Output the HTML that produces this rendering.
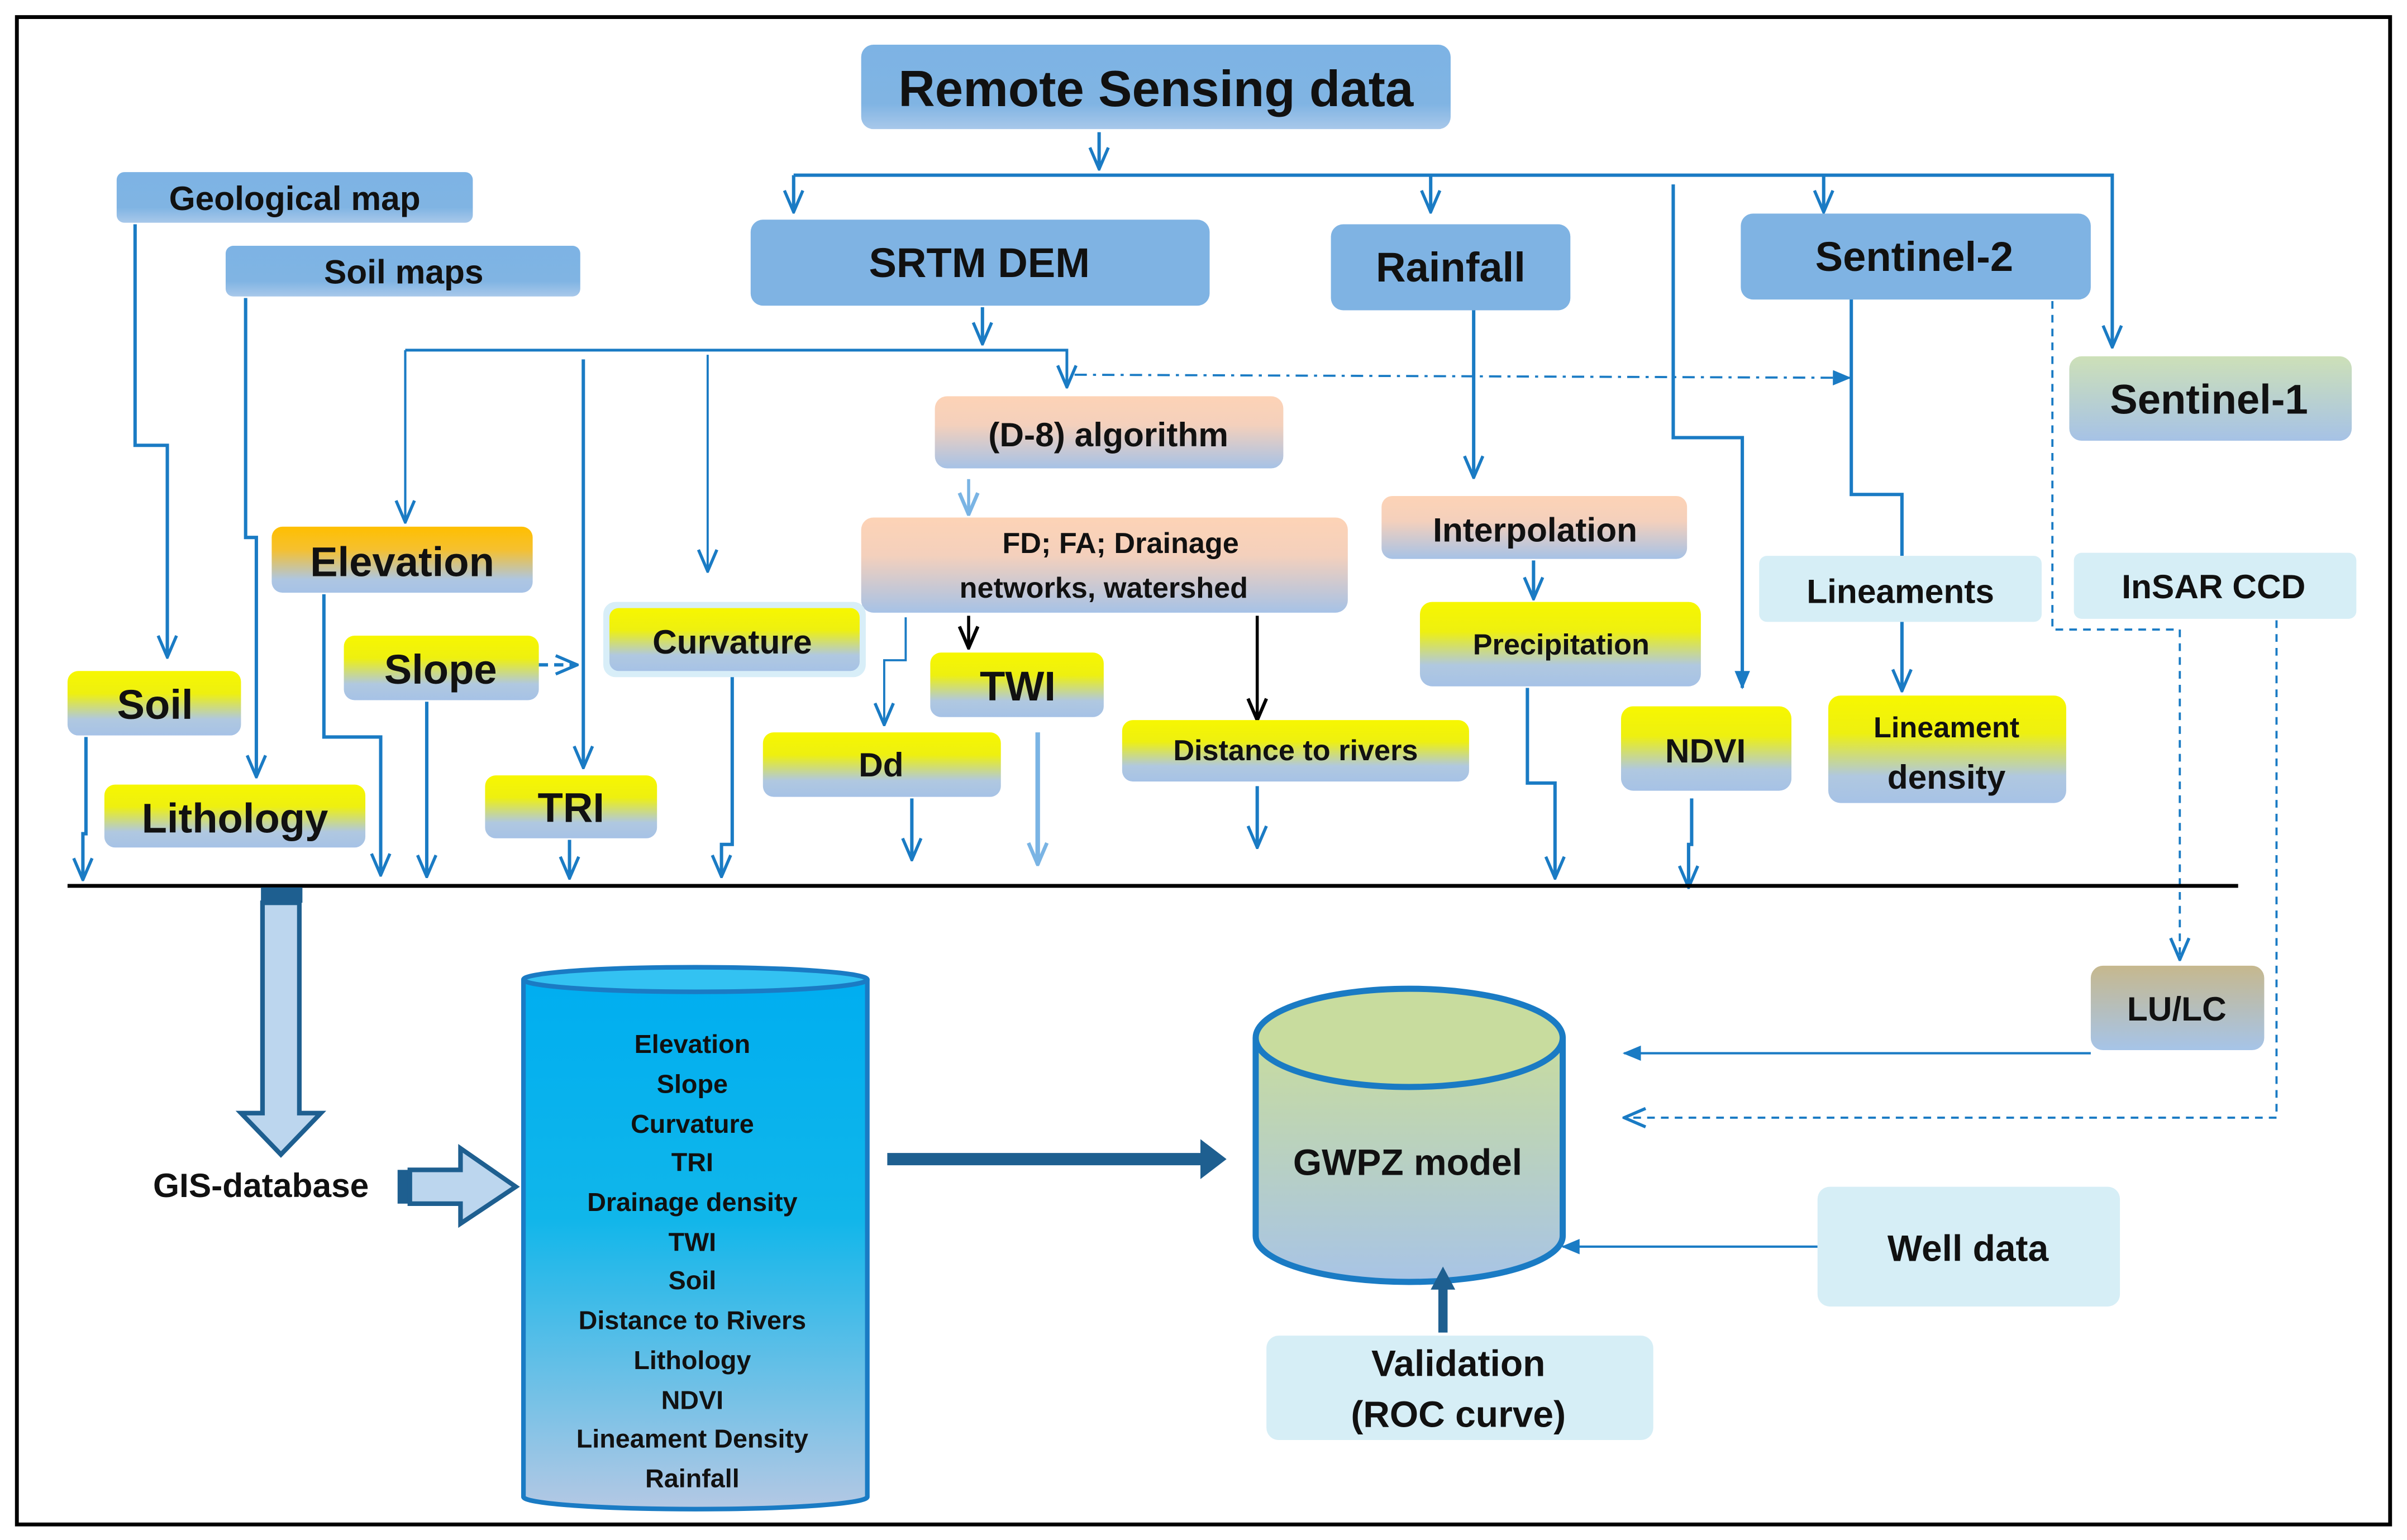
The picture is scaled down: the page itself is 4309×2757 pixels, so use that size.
<!DOCTYPE html>
<html><head><meta charset="utf-8"><style>
html,body{margin:0;padding:0;background:#fff;}
svg{display:block;}
text{font-family:"Liberation Sans",sans-serif;font-weight:bold;fill:#111;text-anchor:middle;dominant-baseline:central;}
</style></head><body>
<svg width="4309" height="2757" viewBox="0 0 1568 1003" xmlns="http://www.w3.org/2000/svg">
<defs>
<linearGradient id="yel" x1="0" y1="0" x2="0" y2="1"><stop offset="0" stop-color="#f7f700"/><stop offset="0.35" stop-color="#eef010"/><stop offset="0.75" stop-color="#b0c8e0"/><stop offset="1" stop-color="#a6c2e6"/></linearGradient>
<linearGradient id="org" x1="0" y1="0" x2="0" y2="1"><stop offset="0" stop-color="#ffbf00"/><stop offset="0.35" stop-color="#f5c030"/><stop offset="0.8" stop-color="#aec6e2"/><stop offset="1" stop-color="#a6c2e6"/></linearGradient>
<linearGradient id="pch" x1="0" y1="0" x2="0" y2="1"><stop offset="0" stop-color="#fdd3b6"/><stop offset="0.4" stop-color="#f4d0bc"/><stop offset="1" stop-color="#a6c2e6"/></linearGradient>
<linearGradient id="blu" x1="0" y1="0" x2="0" y2="1"><stop offset="0" stop-color="#7db3e4"/><stop offset="0.7" stop-color="#80b4e3"/><stop offset="1" stop-color="#a8c8ea"/></linearGradient>
<linearGradient id="grn" x1="0" y1="0" x2="0" y2="1"><stop offset="0" stop-color="#cde0b8"/><stop offset="1" stop-color="#a6c2e6"/></linearGradient>
<linearGradient id="lu" x1="0" y1="0" x2="0" y2="1"><stop offset="0" stop-color="#c6b88e"/><stop offset="1" stop-color="#a6c4e8"/></linearGradient>
<linearGradient id="db" x1="0" y1="0" x2="0" y2="1"><stop offset="0" stop-color="#00aef0"/><stop offset="0.45" stop-color="#10b6ea"/><stop offset="1" stop-color="#b4c8e4"/></linearGradient>
<linearGradient id="gw" x1="0" y1="0" x2="0" y2="1"><stop offset="0" stop-color="#c8dc9e"/><stop offset="1" stop-color="#a8c4e6"/></linearGradient>
<marker id="oa" viewBox="0 0 16 16" refX="15" refY="8" markerWidth="16" markerHeight="16" markerUnits="userSpaceOnUse" orient="auto"><path d="M1,2 L15,8 L1,14" fill="none" stroke="#1a7bc4" stroke-width="2"/></marker>
<marker id="oal" viewBox="0 0 16 16" refX="15" refY="8" markerWidth="16" markerHeight="16" markerUnits="userSpaceOnUse" orient="auto"><path d="M1,2 L15,8 L1,14" fill="none" stroke="#7ab4e4" stroke-width="2.4"/></marker>
<marker id="ob" viewBox="0 0 16 16" refX="15" refY="8" markerWidth="16" markerHeight="16" markerUnits="userSpaceOnUse" orient="auto"><path d="M1,2 L15,8 L1,14" fill="none" stroke="#000" stroke-width="2.2"/></marker>
<marker id="fa" viewBox="0 0 12 12" refX="11" refY="6" markerWidth="12" markerHeight="12" markerUnits="userSpaceOnUse" orient="auto"><path d="M0,1 L12,6 L0,11z" fill="#1a7bc4"/></marker>
</defs>
<rect width="1568" height="1003" fill="#fff"/>
<rect x="11" y="11" width="1546" height="982" fill="none" stroke="#000" stroke-width="2.5"/>

<g fill="none" stroke="#1a7bc4" stroke-width="2.2">
<path d="M716,86 V110" marker-end="url(#oa)"/>
<path d="M517,114 H1376 V226" marker-end="url(#oa)"/>
<path d="M517,114 V138" marker-end="url(#oa)"/>
<path d="M932,114 V138" marker-end="url(#oa)"/>
<path d="M1188,114 V138" marker-end="url(#oa)"/>
<path d="M1090,120 V285 H1135 V448" marker-end="url(#fa)"/>
<path d="M640,200 V224" marker-end="url(#oa)"/>
<path d="M264,228 H695 V252" stroke-width="1.8" marker-end="url(#oa)"/>
<path d="M264,228 V340" stroke-width="1.5" marker-end="url(#oa)"/>
<path d="M380,234 V500" marker-end="url(#oa)"/>
<path d="M461,231 V372" stroke-width="1.4" marker-end="url(#oa)"/>
<path d="M700,244 L1205,246" stroke-width="1.4" stroke-dasharray="8,4,2,4" marker-end="url(#fa)"/>
<path d="M1206,193 V322 H1239 V362"/>
<path d="M1239,405 V450" marker-end="url(#oa)"/>
<path d="M1337,196 V410 H1420 V625" stroke-width="1.4" stroke-dasharray="5,4" marker-end="url(#oa)"/>
<path d="M1483,404 V728 H1058" stroke-width="1.4" stroke-dasharray="5,4" marker-end="url(#oa)"/>
<path d="M960,202 V311" marker-end="url(#oa)"/>
<path d="M999,365 V390" marker-end="url(#oa)"/>
<path d="M88,146 V290 H109 V428" marker-end="url(#oa)"/>
<path d="M160,194 V350 H167 V506" marker-end="url(#oa)"/>
<path d="M56,480 V543 H54 V573" marker-end="url(#oa)"/>
<path d="M211,387 V480 H248 V570" marker-end="url(#oa)"/>
<path d="M278,457 V571" marker-end="url(#oa)"/>
<path d="M351,433 H376" stroke-dasharray="6,4" marker-end="url(#oa)"/>
<path d="M371,547 V572" marker-end="url(#oa)"/>
<path d="M477,439 V550 H470 V571" marker-end="url(#oa)"/>
<path d="M590,402 V430 H576 V472" stroke-width="1.4" marker-end="url(#oa)"/>
<path d="M594,520 V560" marker-end="url(#oa)"/>
<path d="M819,512 V552" marker-end="url(#oa)"/>
<path d="M995,448 V510 H1013 V572" marker-end="url(#oa)"/>
<path d="M1102,520 V550 H1100 V578" marker-end="url(#oa)"/>
<path d="M1362,686 H1058" stroke-width="1.5" marker-end="url(#fa)"/>
<path d="M1184,812 H1018" stroke-width="1.5" marker-end="url(#fa)"/>
</g>
<path d="M631,312 V335" stroke="#7ab4e4" stroke-width="2" fill="none" marker-end="url(#oal)"/>
<path d="M676,477 V563" stroke="#7ab4e4" stroke-width="3" fill="none" marker-end="url(#oal)"/>
<path d="M631,401 V422" stroke="#000" stroke-width="2" fill="none" marker-end="url(#ob)"/>
<path d="M819,401 V469" stroke="#000" stroke-width="2" fill="none" marker-end="url(#ob)"/>

<line x1="44" y1="577" x2="1458" y2="577" stroke="#000" stroke-width="2.5"/>

<rect x="561" y="29" width="384" height="55" rx="8" fill="url(#blu)"/>
<text x="753" y="58" font-size="33">Remote Sensing data</text>
<rect x="76" y="112" width="232" height="33" rx="5" fill="url(#blu)"/>
<text x="192" y="129" font-size="22">Geological map</text>
<rect x="147" y="160" width="231" height="33" rx="5" fill="url(#blu)"/>
<text x="263" y="177" font-size="22">Soil maps</text>
<rect x="489" y="143" width="299" height="56" rx="8" fill="#7fb3e3"/>
<text x="638" y="171" font-size="27">SRTM DEM</text>
<rect x="867" y="146" width="156" height="56" rx="8" fill="#7fb3e3"/>
<text x="945" y="174" font-size="27">Rainfall</text>
<rect x="1134" y="139" width="228" height="56" rx="8" fill="#7fb3e3"/>
<text x="1247" y="167" font-size="27">Sentinel-2</text>
<rect x="1348" y="232" width="184" height="55" rx="8" fill="url(#grn)"/>
<text x="1439" y="260" font-size="27">Sentinel-1</text>
<rect x="609" y="258" width="227" height="47" rx="8" fill="url(#pch)"/>
<text x="722" y="283" font-size="22">(D-8) algorithm</text>
<rect x="561" y="337" width="317" height="62" rx="8" fill="url(#pch)"/>
<text x="730" y="354" font-size="19">FD; FA; Drainage</text>
<text x="719" y="383" font-size="19">networks, watershed</text>
<rect x="900" y="323" width="199" height="41" rx="7" fill="url(#pch)"/>
<text x="1000" y="345" font-size="22">Interpolation</text>
<rect x="1146" y="362" width="184" height="43" rx="5" fill="#d6eef6"/>
<text x="1238" y="385" font-size="22">Lineaments</text>
<rect x="1351" y="360" width="184" height="43" rx="5" fill="#d6eef6"/>
<text x="1442" y="382" font-size="22">InSAR CCD</text>
<rect x="177" y="343" width="170" height="43" rx="7" fill="url(#org)"/>
<text x="262" y="366" font-size="27">Elevation</text>
<rect x="44" y="437" width="113" height="42" rx="7" fill="url(#yel)"/>
<text x="101" y="459" font-size="27">Soil</text>
<rect x="224" y="414" width="127" height="42" rx="7" fill="url(#yel)"/>
<text x="287" y="436" font-size="27">Slope</text>
<rect x="393" y="392" width="171" height="49" rx="8" fill="#d8eef8"/>
<rect x="397" y="396" width="163" height="41" rx="6" fill="url(#yel)"/>
<text x="477" y="418" font-size="22">Curvature</text>
<rect x="606" y="425" width="113" height="42" rx="7" fill="url(#yel)"/>
<text x="663" y="447" font-size="27">TWI</text>
<rect x="68" y="511" width="170" height="41" rx="7" fill="url(#yel)"/>
<text x="153" y="533" font-size="27">Lithology</text>
<rect x="316" y="505" width="112" height="41" rx="7" fill="url(#yel)"/>
<text x="372" y="526" font-size="27">TRI</text>
<rect x="497" y="477" width="155" height="42" rx="7" fill="url(#yel)"/>
<text x="574" y="498" font-size="22">Dd</text>
<rect x="731" y="469" width="226" height="40" rx="7" fill="url(#yel)"/>
<text x="844" y="489" font-size="19">Distance to rivers</text>
<rect x="925" y="392" width="183" height="55" rx="8" fill="url(#yel)"/>
<text x="1017" y="420" font-size="19">Precipitation</text>
<rect x="1056" y="460" width="111" height="55" rx="8" fill="url(#yel)"/>
<text x="1111" y="489" font-size="22">NDVI</text>
<rect x="1191" y="453" width="155" height="70" rx="8" fill="url(#yel)"/>
<text x="1268" y="474" font-size="19">Lineament</text>
<text x="1268" y="506" font-size="22">density</text>

<rect x="170" y="578" width="27" height="10" fill="#1e5f90"/>
<path d="M171,588 V725 H157 L183,752 L209,725 H195 V588 Z" fill="#bcd6ee" stroke="#1e5f90" stroke-width="3"/>
<text x="170" y="772" font-size="22">GIS-database</text>
<rect x="259" y="762" width="8" height="22" fill="#1e5f90"/>
<path d="M267,762 H300 V748 L336,773 L300,797 V784 H267 Z" fill="#bcd6ee" stroke="#1e5f90" stroke-width="3"/>

<path d="M341,638 V975 A112,8 0 0 0 565,975 V638" fill="url(#db)" stroke="#1a7bc4" stroke-width="3"/>
<ellipse cx="453" cy="638" rx="112" ry="8" fill="#33c2f2" stroke="#1a7bc4" stroke-width="3"/>
<g font-size="17">
<text x="451" y="680">Elevation</text>
<text x="451" y="706">Slope</text>
<text x="451" y="732">Curvature</text>
<text x="451" y="757">TRI</text>
<text x="451" y="783">Drainage density</text>
<text x="451" y="809">TWI</text>
<text x="451" y="834">Soil</text>
<text x="451" y="860">Distance to Rivers</text>
<text x="451" y="886">Lithology</text>
<text x="451" y="912">NDVI</text>
<text x="451" y="937">Lineament Density</text>
<text x="451" y="963">Rainfall</text>
</g>
<path d="M578,755 H784" stroke="#1e5f90" stroke-width="8" fill="none"/>
<path d="M782,742 L799,755 L782,768 Z" fill="#1e5f90"/>

<path d="M818,676 V805 A100,30 0 0 0 1018,805 V676" fill="url(#gw)" stroke="#1a7bc4" stroke-width="4"/>
<ellipse cx="918" cy="676" rx="100" ry="32" fill="#c8dc9e" stroke="#1a7bc4" stroke-width="4"/>
<text x="917" y="757" font-size="24">GWPZ model</text>

<rect x="1362" y="629" width="113" height="55" rx="8" fill="url(#lu)"/>
<text x="1418" y="657" font-size="22">LU/LC</text>
<rect x="1184" y="773" width="197" height="78" rx="8" fill="#d6eef6"/>
<text x="1282" y="813" font-size="24">Well data</text>
<rect x="825" y="870" width="252" height="68" rx="8" fill="#d6eef6"/>
<text x="950" y="888" font-size="24">Validation</text>
<text x="950" y="921" font-size="24">(ROC curve)</text>
<path d="M940,868 V838" stroke="#1e5f90" stroke-width="6" fill="none"/>
<path d="M932,840 L940,825 L948,840 Z" fill="#1e5f90"/>
</svg>
</body></html>
